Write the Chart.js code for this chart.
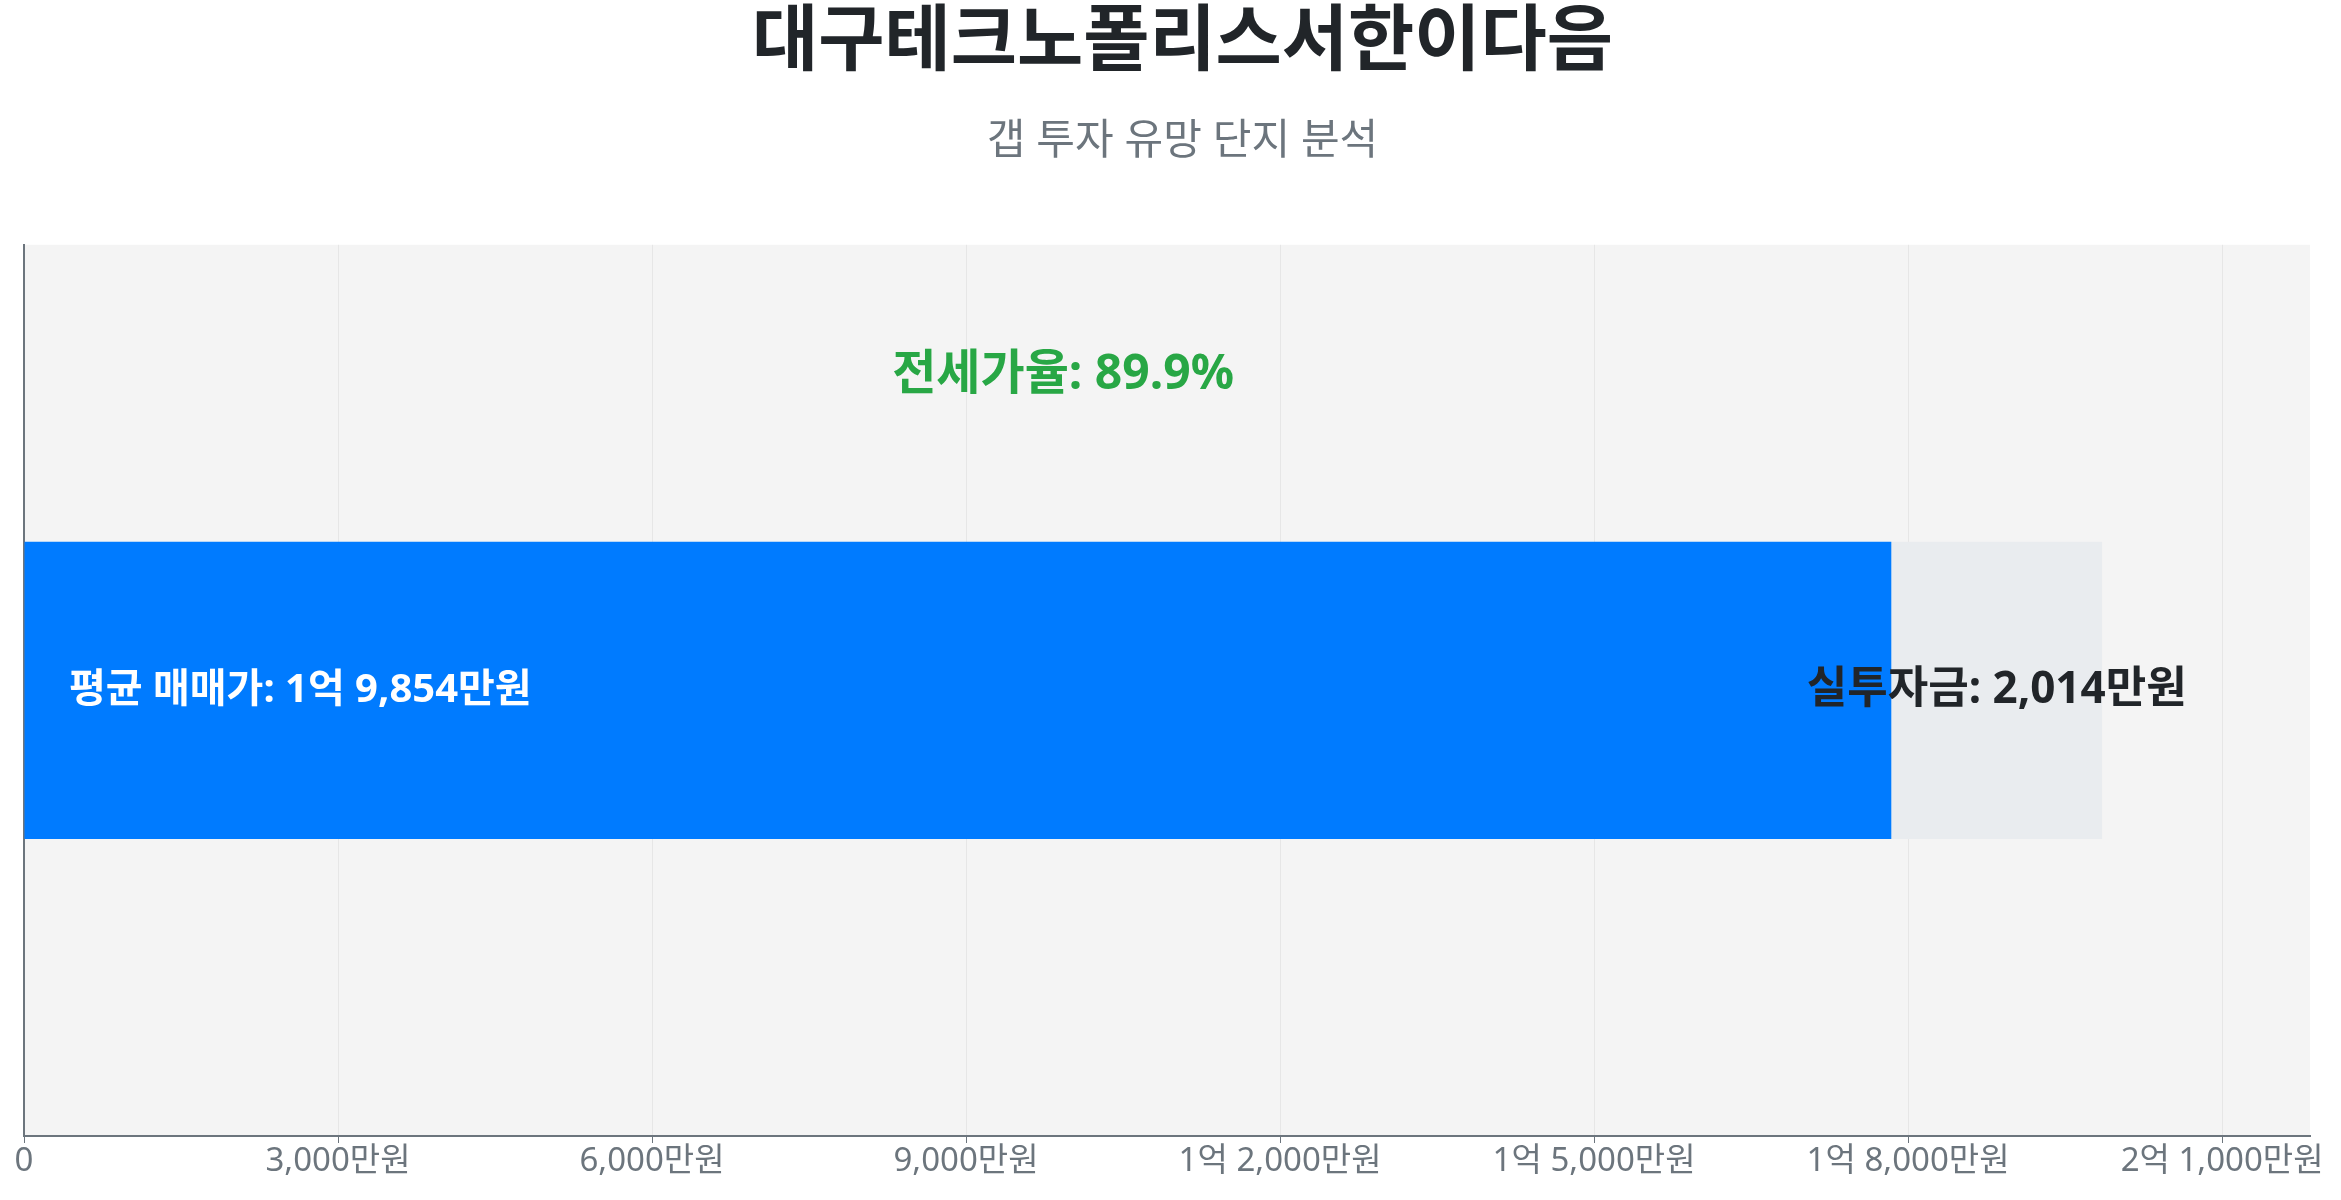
<!DOCTYPE html>
<html lang="ko">
<head>
<meta charset="utf-8">
<title>대구테크노폴리스서한이다음 갭 투자 분석</title>
<script src="https://cdn.jsdelivr.net/npm/chart.js@4.4.1/dist/chart.umd.min.js"></script>
<style>
    html, body { margin: 0; padding: 0; background: #ffffff; }
    #wrap { width: 2341px; height: 1200px; position: relative; }
</style>
</head>
<body>
<div id="wrap">
    <canvas id="gapChart"></canvas>
</div>
<script>
// values in 만원
const categories = ['대구테크노폴리스서한이다음'];
const salePrice = [19854];
const jeonsePrice = [17840];
const gapAmount = [2014];
const jeonseRatio = [89.9];
const xTickValues = [0, 3000, 6000, 9000, 12000, 15000, 18000, 21000];
const xMax = 21840;

const FONT = "'Noto Sans', 'Noto Sans CJK KR', sans-serif";

function formatManwon(v) {
    if (v === 0) return '0';
    const eok = Math.floor(v / 10000);
    const man = v % 10000;
    if (eok > 0) {
        return eok + '억 ' + (man > 0 ? man.toLocaleString('ko-KR') + '만원' : '');
    }
    return man.toLocaleString('ko-KR') + '만원';
}

// chart area background
const areaBg = {
    id: 'areaBg',
    beforeDraw(chart) {
        const { ctx, chartArea } = chart;
        ctx.save();
        ctx.fillStyle = '#f4f4f4';
        ctx.fillRect(chartArea.left, chartArea.top, chartArea.right - chartArea.left, chartArea.bottom - chartArea.top);
        ctx.restore();
    }
};

// text labels on the bar
const barLabels = {
    id: 'barLabels',
    afterDatasetsDraw(chart) {
        const { ctx, chartArea } = chart;
        const jeonseBar = chart.getDatasetMeta(0).data[0];
        const gapBar = chart.getDatasetMeta(1).data[0];
        const xScale = chart.scales.x;
        ctx.save();
        ctx.textBaseline = 'middle';

        ctx.font = 'bold 40px ' + FONT;
        ctx.fillStyle = '#ffffff';
        ctx.textAlign = 'left';
        ctx.fillText('평균 매매가: ' + formatManwon(salePrice[0]), chartArea.left + 45, jeonseBar.y);

        ctx.font = 'bold 44px ' + FONT;
        ctx.fillStyle = '#212529';
        ctx.textAlign = 'center';
        ctx.fillText('실투자금: ' + formatManwon(gapAmount[0]), (gapBar.x + gapBar.base) / 2, gapBar.y);

        ctx.font = 'bold 48px ' + FONT;
        ctx.fillStyle = '#28a745';
        ctx.fillText('전세가율: ' + jeonseRatio[0].toFixed(1) + '%',
            xScale.getPixelForValue(salePrice[0] / 2),
            chartArea.top + (chartArea.bottom - chartArea.top) * 0.147);
        ctx.restore();
    }
};

const ctx = document.getElementById('gapChart');
new Chart(ctx, {
    type: 'bar',
    data: {
        labels: categories,
        datasets: [{
            label: '전세가',
            data: jeonsePrice,
            backgroundColor: '#007bff',
            borderWidth: 0
        }, {
            label: '실투자금',
            data: gapAmount,
            backgroundColor: '#e9ecef',
            borderWidth: 0
        }]
    },
    options: {
        indexAxis: 'y',
        responsive: true,
        maintainAspectRatio: false,
        animation: false,
        devicePixelRatio: 1,
        layout: {
            padding: { left: 24, right: 0, top: 0, bottom: 20 }
        },
        datasets: {
            bar: { barPercentage: 1 / 3, categoryPercentage: 1 }
        },
        plugins: {
            legend: { display: false },
            tooltip: { enabled: false },
            title: {
                display: true,
                text: '대구테크노폴리스서한이다음',
                color: '#212529',
                font: { family: FONT, size: 72, weight: 'bold', lineHeight: 1.2 },
                padding: { top: 0, bottom: 30 }
            },
            subtitle: {
                display: true,
                text: '갭 투자 유망 단지 분석',
                color: '#6c757d',
                font: { family: FONT, size: 42, weight: 'normal', lineHeight: 1.2 },
                padding: { top: 0, bottom: 78 }
            }
        },
        scales: {
            x: {
                stacked: true,
                min: 0,
                max: xMax,
                afterBuildTicks: function(axis) {
                    axis.ticks = xTickValues.map(v => ({ value: v }));
                },
                afterFit: function(axis) {
                    axis.paddingRight = 31;
                },
                border: { display: true, color: '#6c757d', width: 2 },
                grid: {
                    color: '#e6e6e6',
                    tickColor: '#6c757d',
                    tickLength: 7,
                    lineWidth: 1
                },
                ticks: {
                    autoSkip: false,
                    maxRotation: 0,
                    color: '#6c757d',
                    font: { family: FONT, size: 33, lineHeight: 1 },
                    padding: 2,
                    callback: function(value) {
                        return formatManwon(value);
                    }
                }
            },
            y: {
                stacked: true,
                border: { display: true, color: '#6c757d', width: 2 },
                grid: { display: false, drawTicks: false },
                ticks: { display: false }
            }
        }
    },
    plugins: [areaBg, barLabels]
});
</script>
</body>
</html>
